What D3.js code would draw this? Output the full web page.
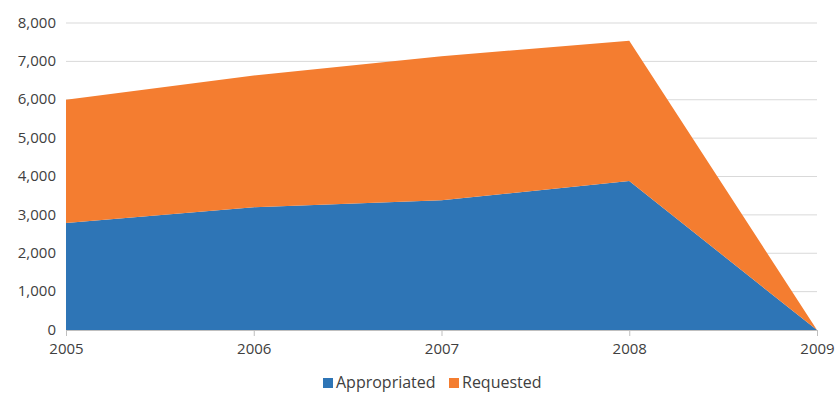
<!DOCTYPE html>
<html>
<head>
<meta charset="utf-8">
<script src="https://cdn.jsdelivr.net/npm/d3@7"></script>
<style>
  body { margin: 0; background: #fff; }
  svg { display: block; font-family: "Open Sans", sans-serif; }
</style>
</head>
<body>
<div id="chart"></div>
<script>
var years = ["2005", "2006", "2007", "2008", "2009"];
var appropriated = [2790, 3200, 3380, 3880, 0];
var requested = [3210, 3430, 3755, 3660, 0];
var yTicks = [0, 1000, 2000, 3000, 4000, 5000, 6000, 7000, 8000];
var seriesNames = ["Appropriated", "Requested"];
var colors = ["#2e75b6", "#f47d30"];

var width = 836, height = 393;
var margin = { top: 23, right: 19, bottom: 63, left: 66 };

var svg = d3.select("#chart")
    .append("svg")
    .attr("width", width)
    .attr("height", height);

var g = svg.append("g")
    .attr("transform", "translate(" + margin.left + "," + margin.top + ")");

var w = width - margin.left - margin.right,
    h = height - margin.top - margin.bottom;

var x = d3.scalePoint()
    .domain(years)
    .range([0, w]);

var y = d3.scaleLinear()
    .domain([0, 8000])
    .range([h, 0]);

// gridlines
g.selectAll(".grid")
    .data(yTicks.slice(1))
    .enter()
    .append("line")
    .attr("x1", 0)
    .attr("x2", w)
    .attr("y1", function (d) { return y(d); })
    .attr("y2", function (d) { return y(d); })
    .attr("stroke", "#d9d9d9")
    .attr("stroke-width", 1);

// stacked data
var rows = years.map(function (yr, i) {
    return { year: yr, Appropriated: appropriated[i], Requested: requested[i] };
});
var stacked = d3.stack().keys(seriesNames)(rows);

var area = d3.area()
    .x(function (d) { return x(d.data.year); })
    .y0(function (d) { return y(d[0]); })
    .y1(function (d) { return y(d[1]); });

g.selectAll(".layer")
    .data(stacked)
    .enter()
    .append("path")
    .attr("d", area)
    .attr("fill", function (d, i) { return colors[i]; });

// x axis
var xAxis = g.append("g")
    .attr("transform", "translate(0," + h + ")")
    .call(d3.axisBottom(x).tickSize(6).tickPadding(7));
xAxis.select(".domain").attr("stroke", "#bfbfbf").attr("d", "M0,0.5H" + w);
xAxis.selectAll(".tick line").attr("stroke", "#bfbfbf");
xAxis.selectAll("text")
    .attr("fill", "#404040")
    .style("font-size", "15px")
    .style("font-family", "Open Sans, sans-serif");

// y axis
var yAxis = g.append("g")
    .call(d3.axisLeft(y).tickValues(yTicks).tickSize(0).tickPadding(10).tickFormat(d3.format(",")));
yAxis.select(".domain").remove();
yAxis.selectAll("text")
    .attr("fill", "#404040")
    .attr("dy", "0.28em")
    .style("font-size", "15px")
    .style("font-family", "Open Sans, sans-serif");

// legend
var legend = svg.append("g").attr("transform", "translate(323,378)");
var legendX = [0, 126];
seriesNames.forEach(function (name, i) {
    legend.append("rect")
        .attr("x", legendX[i])
        .attr("y", 0)
        .attr("width", 10)
        .attr("height", 10)
        .attr("fill", colors[i]);
    legend.append("text")
        .attr("x", legendX[i] + 13)
        .attr("y", 10)
        .attr("fill", "#404040")
        .style("font-size", "16px")
        .text(name);
});
</script>
</body>
</html>
